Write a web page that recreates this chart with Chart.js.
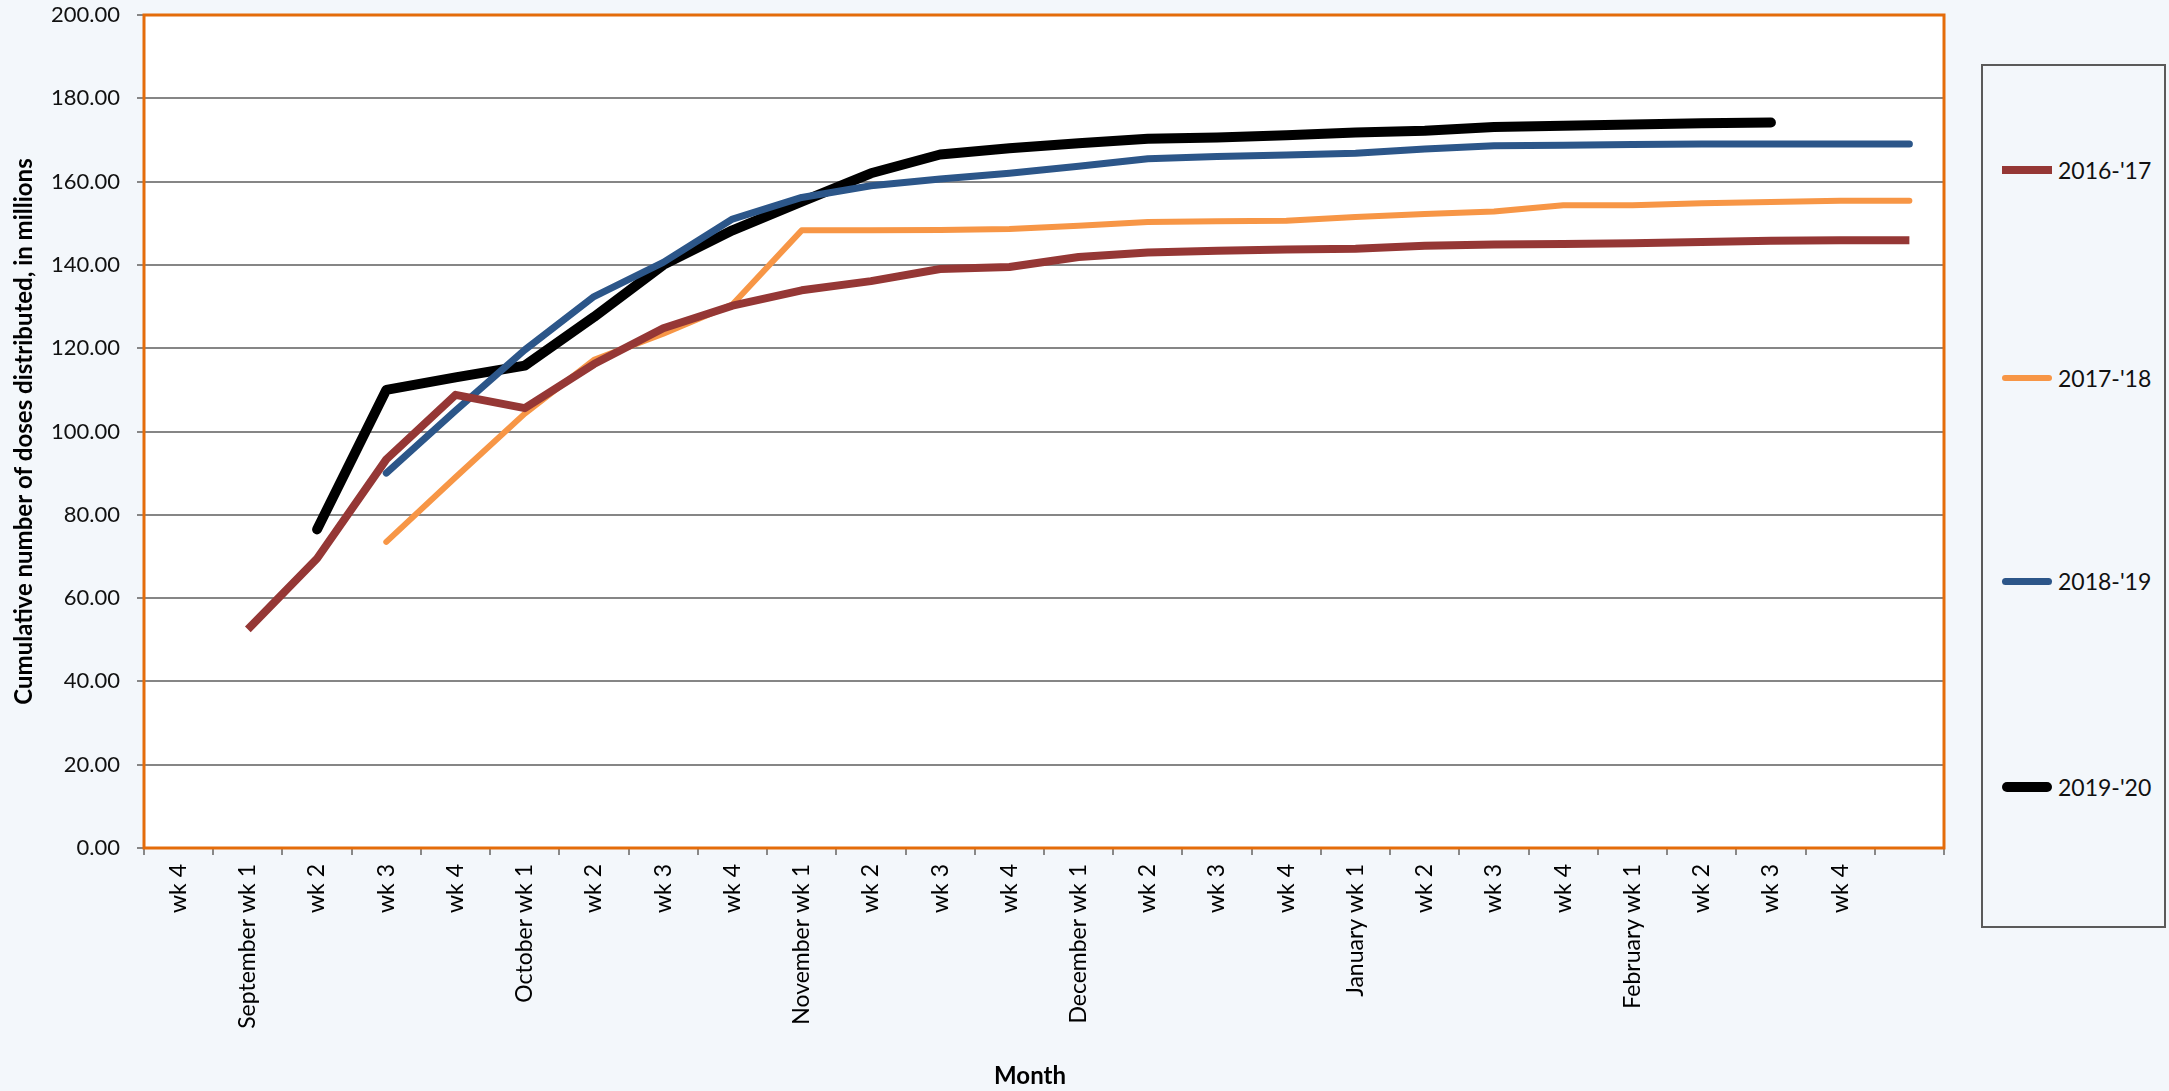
<!DOCTYPE html>
<html>
<head>
<meta charset="utf-8">
<script src="https://cdn.jsdelivr.net/npm/chart.js@4"></script>
<style>
  html, body { margin: 0; padding: 0; background: #f3f7fb; }
  #wrap { position: relative; width: 2169px; height: 1091px; overflow: hidden; }
  canvas { position: absolute; left: 0; top: 0; }
  #legend { position: absolute; left: 1981px; top: 64px; width: 185px; height: 864px;
            border: 2px solid #5a5a5a; box-sizing: border-box; background: #f3f7fb; }
  .item { position: absolute; left: 0; height: 30px; display: flex; align-items: center;
          font-family: Lato, "Liberation Sans", sans-serif; font-size: 23px; color: #111; }
  .swatch { width: 50px; margin-left: 19px; margin-right: 6px; }
</style>
</head>
<body>
<div id="wrap">
  <canvas id="c" width="2169" height="1091"></canvas>
  <div id="legend"></div>
</div>
<script>
const categories = ["wk 4","September wk 1","wk 2","wk 3","wk 4","October wk 1","wk 2","wk 3","wk 4",
  "November wk 1","wk 2","wk 3","wk 4","December wk 1","wk 2","wk 3","wk 4","January wk 1","wk 2","wk 3","wk 4",
  "February wk 1","wk 2","wk 3","wk 4",""];

const season1617 = [null, 52.5, 69.5, 93.3, 108.8, 105.6, 116.2, 124.8, 130.2, 133.9, 136.1, 139.0, 139.5,
  141.9, 143.0, 143.4, 143.7, 143.9, 144.6, 144.9, 145.0, 145.2, 145.5, 145.8, 145.9, 145.9];
const season1718 = [null, null, null, 73.5, 89.0, 104.3, 117.2, 123.5, 130.5, 148.3, 148.3, 148.4, 148.6,
  149.4, 150.3, 150.5, 150.6, 151.5, 152.2, 152.8, 154.3, 154.3, 154.8, 155.1, 155.4, 155.4];
const season1819 = [null, null, null, 90.0, 105.0, 119.6, 132.4, 140.6, 151.0, 156.2, 159.0, 160.6, 162.0,
  163.7, 165.5, 166.0, 166.4, 166.8, 167.8, 168.6, 168.7, 168.9, 169.0, 169.0, 169.0, 169.0];
const season1920 = [null, null, 76.5, 110.0, 113.0, 115.8, 127.5, 140.0, 148.3, 155.2, 162.0, 166.5, 168.0,
  169.2, 170.3, 170.6, 171.1, 171.8, 172.2, 173.1, 173.4, 173.7, 174.0, 174.2, null, null];

const seriesNames = ["2016-'17", "2017-'18", "2018-'19", "2019-'20"];
const yTicks = [0, 20, 40, 60, 80, 100, 120, 140, 160, 180, 200];
const xTitle = "Month";
const yTitle = "Cumulative number of doses distributed, in millions";

const styles = [
  { color: "#953735", width: 8, cap: "butt" },
  { color: "#F79646", width: 6, cap: "round" },
  { color: "#2C5689", width: 7, cap: "round" },
  { color: "#000000", width: 10, cap: "round" }
];
const seriesData = [season1617, season1718, season1819, season1920];

const plotArea = {
  id: "plotArea",
  beforeDraw(chart) {
    const { ctx, chartArea: a } = chart;
    ctx.save();
    ctx.fillStyle = "#ffffff";
    ctx.fillRect(a.left, a.top, a.right - a.left, a.bottom - a.top);
    ctx.restore();
  },
  afterDatasetsDraw(chart) {
    const { ctx, chartArea: a } = chart;
    ctx.save();
    ctx.strokeStyle = "#E46C0A";
    ctx.lineWidth = 3;
    ctx.strokeRect(a.left, a.top, a.right - a.left, a.bottom - a.top);
    ctx.restore();
  },
  afterDraw(chart) {
    const { ctx } = chart;
    ctx.save();
    ctx.fillStyle = "#000";
    ctx.font = "bold 24px Lato, 'Liberation Sans', sans-serif";
    ctx.textAlign = "center";
    ctx.textBaseline = "middle";
    ctx.fillText(xTitle, 1030, 1076);
    ctx.restore();
  }
};

const chart = new Chart(document.getElementById("c"), {
  type: "line",
  data: {
    labels: categories,
    datasets: seriesData.map((d, i) => ({
      label: seriesNames[i],
      data: d,
      borderColor: styles[i].color,
      backgroundColor: styles[i].color,
      borderWidth: styles[i].width,
      borderCapStyle: styles[i].cap,
      borderJoinStyle: "round",
      pointRadius: 0,
      pointHoverRadius: 0,
      tension: 0,
      spanGaps: false,
      fill: false
    }))
  },
  options: {
    responsive: false,
    devicePixelRatio: 1,
    animation: false,
    layout: { padding: { left: 0, right: 225, top: 15, bottom: 0 } },
    plugins: { legend: { display: false }, tooltip: { enabled: false } },
    scales: {
      x: {
        type: "category",
        offset: true,
        grid: { offset: true, drawOnChartArea: false, drawTicks: true, tickLength: 7, color: "#888888", lineWidth: 2 },
        border: { display: false },
        ticks: {
          autoSkip: false, minRotation: 90, maxRotation: 90, padding: 9,
          color: "#000", font: { family: "Lato, 'Liberation Sans', sans-serif", size: 23 }
        },
        title: { display: false },
        afterFit(scale) { scale.height = 1091 - 848; scale.paddingLeft = 0; scale.paddingRight = 0; }
      },
      y: {
        min: 0, max: 200,
        afterBuildTicks(scale) { scale.ticks = yTicks.map(v => ({ value: v })); },
        grid: { color: "#868686", lineWidth: 2, tickLength: 7, drawTicks: true },
        border: { display: false },
        ticks: {
          padding: 17, color: "#111",
          font: { family: "Lato, 'Liberation Sans', sans-serif", size: 22 },
          callback: v => Number(v).toFixed(2)
        },
        title: {
          display: true, text: yTitle, color: "#000",
          font: { family: "Lato, 'Liberation Sans', sans-serif", size: 24, weight: "bold" },
          padding: { top: 10, bottom: 0 }
        },
        afterFit(scale) { scale.width = 144; scale.paddingTop = 0; scale.paddingBottom = 0; }
      }
    }
  },
  plugins: [plotArea]
});

// HTML legend built from the chart's datasets
const legend = document.getElementById("legend");
const itemTops = [89, 297, 500, 706];
chart.data.datasets.forEach((ds, i) => {
  const item = document.createElement("div");
  item.className = "item";
  item.style.top = itemTops[i] + "px";
  const sw = document.createElement("span");
  sw.className = "swatch";
  sw.style.background = ds.borderColor;
  sw.style.height = ds.borderWidth + "px";
  if (styles[i].cap === "round") sw.style.borderRadius = (ds.borderWidth / 2) + "px";
  const tx = document.createElement("span");
  tx.textContent = ds.label;
  item.appendChild(sw);
  item.appendChild(tx);
  legend.appendChild(item);
});
</script>
</body>
</html>
